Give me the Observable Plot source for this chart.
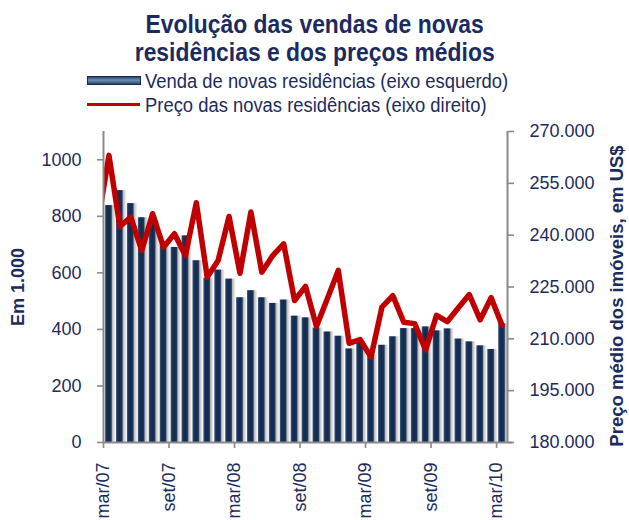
<!DOCTYPE html>
<html><head><meta charset="utf-8">
<script src="https://cdn.jsdelivr.net/npm/d3@7"></script>
<script src="https://cdn.jsdelivr.net/npm/@observablehq/plot@0.6"></script>
<style>
body{margin:0;background:#fff;font-family:"Liberation Sans",Arial,sans-serif;color:#1c2b5e;width:629px;height:520px;overflow:hidden}
#header{position:relative;width:629px;height:117px}
.t{position:absolute;left:0;width:629px;text-align:center;font-weight:bold;font-size:26px;line-height:26px;transform:scaleX(0.88);transform-origin:316px 0;white-space:nowrap}
.lg{position:absolute;left:145px;font-size:20px;line-height:20px;transform:scaleX(0.92);transform-origin:0 0;white-space:nowrap}
.ib{position:absolute;left:87px;width:52px;height:7px;border:1px solid #1a2c4c;background:linear-gradient(#2a4468,#6f8fb8 45%,#2a4468)}
.il{position:absolute;left:87px;width:53px;height:3px;background:#c00000}
#chart svg{display:block}
</style></head>
<body>
<div id="header">
  <div class="t" style="top:11px">Evolução das vendas de novas</div>
  <div class="t" style="top:39px">residências e dos preços médios</div>
  <div class="ib" style="top:76px"></div>
  <div class="lg" style="top:71px">Venda de novas residências (eixo esquerdo)</div>
  <div class="il" style="top:103px"></div>
  <div class="lg" style="top:95px">Preço das novas residências (eixo direito)</div>
</div>
<div id="chart"></div>
<script>
// months (first entry fev/07 only carries the clipped start of the price line)
const months = ["fev/07","mar/07","abr/07","mai/07","jun/07","jul/07","ago/07","set/07","out/07","nov/07","dez/07",
  "jan/08","fev/08","mar/08","abr/08","mai/08","jun/08","jul/08","ago/08","set/08","out/08","nov/08","dez/08",
  "jan/09","fev/09","mar/09","abr/09","mai/09","jun/09","jul/09","ago/09","set/09","out/09","nov/09","dez/09",
  "jan/10","fev/10","mar/10"];
// sales of new homes, thousands (left axis)
const sales = [null, 838, 891, 845, 795, 785, 700, 690, 731, 643, 581, 610, 578, 512, 537, 512, 492, 504, 447, 441, 405,
  391, 376, 331, 351, 310, 344, 374, 403, 403, 409, 395, 402, 366, 356, 342, 329, 420];
// average price of new homes, US$ (right axis)
const price = [243800, 263100, 242500, 245200, 235600, 246200, 236500, 240400, 234100, 249400, 227800, 232700, 245400,
  229000, 246700, 229300, 234100, 237500, 221100, 225200, 213600, 221600, 229800, 208700, 209800, 204700, 219200,
  222500, 214800, 214400, 206800, 216800, 215000, 219000, 222800, 215500, 221900, 213900];
const leftTicks = [0, 200, 400, 600, 800, 1000];
const rightTicks = [180000, 195000, 210000, 225000, 240000, 255000, 270000];
const xTickLabels = ["mar/07","set/07","mar/08","set/08","mar/09","set/09","mar/10"];
const leftDomain = [0, 1100];
const rightDomain = [180000, 270000];

const rows = months.map((m, k) => ({i: k - 1, m, sales: sales[k], price: price[k]}));
const bars = rows.filter(d => d.sales != null);
const toLeft = p => (p - rightDomain[0]) / (rightDomain[1] - rightDomain[0]) * leftDomain[1];
const fromLeft = v => v / leftDomain[1] * (rightDomain[1] - rightDomain[0]) + rightDomain[0];
const ptFmt = d3.formatLocale({decimal: ",", thousands: ".", grouping: [3], currency: ["", ""]}).format(",");
const xTickPos = xTickLabels.map(l => months.indexOf(l) - 1 - 0.5);

const ink = "#1c2b5e", axisGray = "#8a8a8a";

function defs() {
  const g = d3.create("svg:defs");
  const b = g.append("linearGradient").attr("id", "barGrad").attr("x1", 0).attr("x2", 1).attr("y1", 0).attr("y2", 0);
  [["0%", "#4a6389"], ["22%", "#1b3459"], ["55%", "#132a4c"], ["85%", "#1b3459"], ["100%", "#3c557a"]]
    .forEach(([o, c]) => b.append("stop").attr("offset", o).attr("stop-color", c));
  const s = g.append("linearGradient").attr("id", "shadow").attr("x1", 0).attr("x2", 1).attr("y1", 0).attr("y2", 0);
  [["0%", "#a9a9a9"], ["60%", "#d9d9d9"], ["100%", "#f4f4f4"]]
    .forEach(([o, c]) => s.append("stop").attr("offset", o).attr("stop-color", c));
  return g.node();
}

const chart = Plot.plot({
  width: 629, height: 403,
  marginTop: 14, marginBottom: 78, marginLeft: 103, marginRight: 122,
  x: {domain: [-0.5, 36.5], axis: null},
  y: {domain: leftDomain, axis: null},
  style: {fontFamily: '"Liberation Sans", Arial, sans-serif', fontSize: "18px", color: ink, background: "white"},
  marks: [
    defs,
    Plot.rectY(bars, {x1: d => d.i + 0.28, x2: d => d.i + 0.62, y1: 0, y2: "sales", fill: "url(#shadow)"}),
    Plot.rectY(bars, {x1: d => d.i - 0.31, x2: d => d.i + 0.31, y1: 0, y2: "sales", fill: "url(#barGrad)"}),
    Plot.line(rows, {x: "i", y: d => toLeft(d.price), stroke: "#c00000", strokeWidth: 5.5, clip: true}),
    Plot.ruleX([-0.5, 36.5], {y1: 0, y2: leftDomain[1], stroke: axisGray, strokeWidth: 2}),
    Plot.ruleY([0], {x1: -0.5, x2: 37.0, stroke: axisGray, strokeWidth: 2}),
    Plot.axisY(leftTicks, {anchor: "left", tickSize: 6, tickPadding: 16, stroke: axisGray, strokeWidth: 1.6, fill: ink, fontSize: 18, label: null,
      tickFormat: v => String(v)}),
    Plot.axisY(rightTicks.map(toLeft), {anchor: "right", tickSize: 6, tickPadding: 16, stroke: axisGray, strokeWidth: 1.6, fill: ink, fontSize: 18, label: null,
      tickFormat: v => ptFmt(Math.round(fromLeft(v)))}),
    Plot.axisX(xTickPos, {anchor: "bottom", tickSize: 6, tickPadding: 14, tickRotate: -90, stroke: axisGray, strokeWidth: 1.6, fill: ink, fontSize: 18, label: null,
      tickFormat: v => months[Math.round(v + 1.5)]}),
    Plot.text(["Em 1.000"], {frameAnchor: "left", textAnchor: "middle", dx: -85, rotate: -90, fontWeight: "bold", fontSize: 18, fill: ink}),
    Plot.text(["Preço médio dos imóveis, em US$"], {frameAnchor: "right", textAnchor: "middle", dx: 110, dy: 9, rotate: -90, fontWeight: "bold", fontSize: 18.5, fill: ink})
  ]
});
document.getElementById("chart").appendChild(chart);
</script>
</body></html>
